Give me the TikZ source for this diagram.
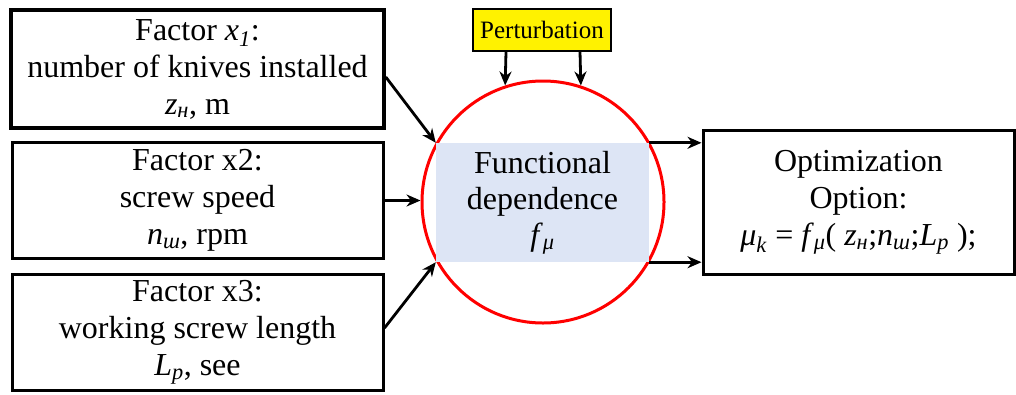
\documentclass[tikz,border=0pt]{standalone}
\usepackage{fontspec}
\setmainfont{Liberation Serif}
\usetikzlibrary{arrows.meta}

\newcommand{\isub}[2]{\textit{#1}\textsubscript{\textit{#2}}}

\tikzset{
  factor/.style={draw, line width=3pt, minimum width=371pt, minimum height=116pt,
                 align=center, inner sep=0pt, font=\fontsize{32}{37}\selectfont},
  flow/.style={line width=2.8pt, -{Stealth[length=14pt,width=12pt]}}
}

\begin{document}
\begin{tikzpicture}[x=1pt, y=-1pt]
  \useasboundingbox[fill=white] (0,0) rectangle (1016,394);

  % input factors
  \node[factor, minimum width=373pt, minimum height=118pt, line width=3.6pt] (fac1) at (197.5,69)
    {Factor \isub{x}{1}:\\number of knives installed\\\isub{z}{н}, m};
  \node[factor] (fac2) at (197.5,200.5)
    {Factor x2:\\screw speed\\\isub{n}{ш}, rpm};
  \node[factor] (fac3) at (197.5,332)
    {Factor x3:\\working screw length\\\isub{L}{p}, see};

  % object
  \node[draw=red, line width=3pt, circle, minimum size=242pt, inner sep=0pt] (obj) at (543,202) {};
  \node[fill={rgb,255:red,221;green,229;blue,245}, minimum width=213pt, minimum height=119pt,
        align=center, inner sep=0pt, font=\fontsize{32}{36}\selectfont] (fdep) at (542.5,202.5)
    {Functional\\dependence\\\isub{f}{μ}};

  % perturbation
  \node[draw, fill=yellow, line width=1.8pt, minimum width=138pt, minimum height=42pt,
        inner sep=0pt, font=\fontsize{25}{28}\selectfont] (pert) at (542,30) {Perturbation};

  % output
  \node[factor, minimum width=311pt, minimum height=144pt] (opt) at (858.5,202)
    {Optimization\\Option:\\\isub{μ}{k} = \isub{f}{μ}( \isub{z}{н};\isub{n}{ш};\isub{L}{p} );};

  \draw[flow] ([yshift=-8pt]fac1.east) -- (fdep.north west);
  \draw[flow] (fac2.east) -- (fac2.east -| obj.west);
  \draw[flow] ([yshift=4pt]fac3.east) -- (fdep.south west);
  \draw[flow] ([xshift=-36pt]pert.south) -- (obj.108);
  \draw[flow] ([xshift=38pt]pert.south) -- (obj.72);
  \draw[flow] (fdep.north east) -- (opt.west |- fdep.north east);
  \draw[flow] (fdep.south east) -- (opt.west |- fdep.south east);
\end{tikzpicture}
\end{document}
